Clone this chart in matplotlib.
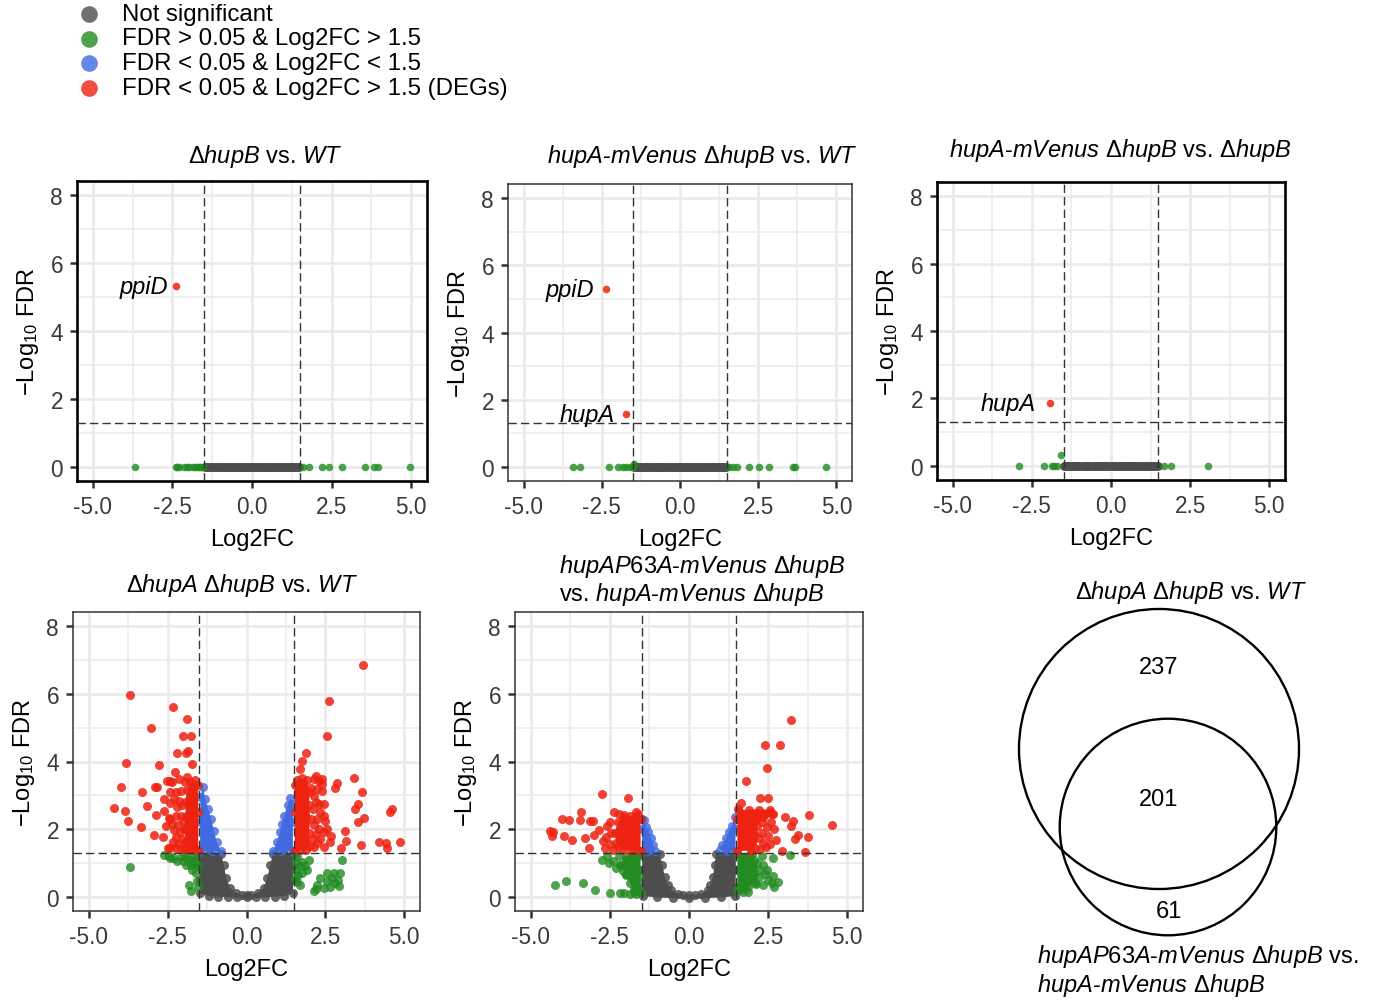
import matplotlib
matplotlib.use("Agg")
import matplotlib.pyplot as plt
from matplotlib.lines import Line2D
from matplotlib.patches import Circle
import numpy as np

plt.rcParams['font.family'] = ['Liberation Sans', 'DejaVu Sans']
plt.rcParams['mathtext.fontset'] = 'custom'
plt.rcParams['mathtext.rm'] = 'Liberation Sans'
plt.rcParams['mathtext.it'] = 'Liberation Sans:italic'
plt.rcParams['mathtext.bf'] = 'Liberation Sans:bold'

# ==============================
# Colours / legend
# ==============================
GREY = '#4D4D4D'
GREEN = '#228B22'
BLUE = '#4169E1'
RED = '#EE2211'

legend_labels = ["Not significant",
                 "FDR > 0.05 & Log2FC > 1.5",
                 "FDR < 0.05 & Log2FC < 1.5",
                 "FDR < 0.05 & Log2FC > 1.5 (DEGs)"]
legend_colors = [GREY, GREEN, BLUE, RED]

xticks = [-5.0, -2.5, 0.0, 2.5, 5.0]
xtick_labels = ['-5.0', '-2.5', '0.0', '2.5', '5.0']
yticks = [0, 2, 4, 6, 8]
fc_cut = 1.5
fdr_cut = 1.301  # -log10(0.05)

# ==============================
# Panel 1: dhupB vs WT
# ==============================
p1_grey_x = [-1.49, -1.45, -1.41, -1.37, -1.33, -1.27, -1.22, -1.18, -1.15, -1.09, -1.04, -1.00,
             -0.96, -0.91, -0.87, -0.82, -0.78, -0.74, -0.70, -0.65, -0.61, -0.56, -0.52, -0.48,
             -0.44, -0.39, -0.35, -0.31, -0.26, -0.22, -0.18, -0.13, -0.09, -0.04, 0.0, 0.04,
             0.08, 0.13, 0.17, 0.21, 0.25, 0.30, 0.34, 0.38, 0.43, 0.47, 0.51, 0.56, 0.60, 0.64,
             0.69, 0.73, 0.77, 0.82, 0.86, 0.90, 0.95, 0.99, 1.03, 1.08, 1.12, 1.16, 1.21, 1.25,
             1.29, 1.34, 1.38, 1.43, 1.47]
p1_green = [(-3.67, 0), (-2.39, 0), (-2.35, 0), (-2.30, 0), (-2.14, 0), (-2.05, 0), (-1.97, 0),
            (-1.86, 0), (-1.80, 0), (-1.74, 0), (-1.68, 0), (-1.63, 0), (-1.58, 0), (-1.53, 0),
            (1.61, 0), (1.79, 0), (2.21, 0), (2.42, 0), (2.84, 0), (3.56, 0), (3.84, 0),
            (3.95, 0), (4.98, 0)]
p1_red = [(-2.40, 5.32)]
p1_labels = [("ppiD", -2.40, 5.32)]

# ==============================
# Panel 2: hupA-mVenus dhupB vs WT
# ==============================
p2_grey_x = [-1.47, -1.43, -1.40, -1.35, -1.31, -1.27, -1.23, -1.18, -1.13, -1.09, -1.05, -1.00,
             -0.95, -0.92, -0.88, -0.82, -0.77, -0.73, -0.69, -0.64, -0.60, -0.57, -0.53, -0.48,
             -0.43, -0.38, -0.34, -0.31, -0.27, -0.22, -0.17, -0.12, -0.08, -0.03, 0.01, 0.05,
             0.09, 0.14, 0.18, 0.22, 0.26, 0.31, 0.35, 0.38, 0.42, 0.47, 0.52, 0.57, 0.61, 0.64,
             0.68, 0.73, 0.78, 0.81, 0.85, 0.90, 0.94, 0.99, 1.04, 1.07, 1.11, 1.15, 1.20, 1.25,
             1.30, 1.35, 1.39, 1.44, 1.48]
p2_green = [(-3.43, 0), (-3.21, 0), (-2.26, 0), (-1.97, 0), (-1.83, 0), (-1.72, 0), (-1.61, 0),
            (-1.51, 0), (-1.47, 0.08), (1.57, 0), (1.70, 0), (1.83, 0), (2.21, 0), (2.53, 0),
            (2.85, 0), (3.60, 0), (3.67, 0), (4.68, 0)]
p2_red = [(-2.38, 5.28), (-1.72, 1.56)]
p2_labels = [("ppiD", -2.38, 5.28), ("hupA", -1.72, 1.56)]

# ==============================
# Panel 3: hupA-mVenus dhupB vs dhupB
# ==============================
p3_grey_x = [-1.48, -1.44, -1.39, -1.36, -1.32, -1.26, -1.21, -1.17, -1.14, -1.08, -1.03, -1.01,
             -0.97, -0.90, -0.86, -0.83, -0.79, -0.73, -0.69, -0.66, -0.62, -0.55, -0.51, -0.49,
             -0.45, -0.38, -0.34, -0.30, -0.25, -0.23, -0.19, -0.12, -0.08, -0.05, 0.0, 0.05,
             0.10, 0.12, 0.16, 0.22, 0.27, 0.29, 0.33, 0.39, 0.44, 0.46, 0.50, 0.56, 0.59, 0.65,
             0.70, 0.72, 0.76, 0.83, 0.87, 0.89, 0.93, 1.00, 1.05, 1.07, 1.13, 1.15, 1.19, 1.26,
             1.31, 1.33, 1.37, 1.43, 1.47]
p3_green = [(-2.90, 0), (-2.13, 0), (-1.87, 0), (-1.79, 0), (-1.72, 0), (-1.58, 0.33),
            (1.66, 0), (1.90, 0), (3.06, 0)]
p3_red = [(-1.93, 1.85)]
p3_labels = [("hupA", -1.93, 1.85)]

# ==============================
# Panel 4: dhupA dhupB vs WT (dense clouds: outline of packed points + loose points)
# ==============================
p4_grey_cloud = [(-1.48, 1.27), (-1.48, 0.9), (-1.48, 0.5), (-1.47, 0.1), (-1.2, 0.02), (-0.9, 0.0),
                 (-0.6, -0.01), (-0.3, -0.02), (0.0, -0.02), (0.3, -0.02), (0.6, -0.01), (0.9, 0.0),
                 (1.2, 0.02), (1.47, 0.1), (1.48, 0.5), (1.48, 0.9), (1.48, 1.27), (1.2, 1.28),
                 (0.84, 1.28), (0.75, 0.94), (0.66, 0.55), (0.54, 0.26), (0.35, 0.11), (0.15, 0.05),
                 (0.0, 0.04), (-0.15, 0.05), (-0.32, 0.11), (-0.52, 0.26), (-0.64, 0.55),
                 (-0.72, 0.94), (-0.81, 1.28), (-1.2, 1.28)]
p4_blue_clouds = [
    [(-1.47, 1.34), (-1.47, 2.2), (-1.46, 2.95), (-1.37, 3.26), (-1.32, 2.9), (-1.22, 2.6),
     (-1.12, 2.3), (-1.03, 1.95), (-0.95, 1.63), (-0.82, 1.35), (-1.1, 1.34)],
    [(1.47, 1.34), (1.47, 2.2), (1.47, 2.75), (1.39, 2.91), (1.30, 2.7), (1.20, 2.4), (1.12, 2.15),
     (1.06, 1.92), (0.97, 1.63), (0.84, 1.35), (1.1, 1.34)]]
p4_red_clouds = [
    [(-1.53, 1.38), (-1.53, 2.5), (-1.53, 3.3), (-1.62, 3.45), (-1.78, 3.38), (-1.88, 3.15),
     (-1.95, 2.8), (-1.92, 2.4), (-1.98, 2.0), (-1.92, 1.65), (-1.96, 1.40), (-1.75, 1.37)],
    [(1.53, 1.38), (1.53, 2.5), (1.53, 3.3), (1.6, 3.45), (1.75, 3.5), (1.92, 3.45), (2.0, 3.1),
     (1.98, 2.7), (2.03, 2.3), (1.97, 1.9), (2.02, 1.5), (1.9, 1.38), (1.7, 1.37)]]
p4_green_clouds = []
p4_red = [(-3.70, 5.97), (-2.33, 5.61), (-1.90, 5.26), (-3.04, 5.00), (-2.02, 4.74), (-1.75, 4.74),
          (-2.21, 4.25), (-1.93, 4.25), (-1.86, 4.30), (-3.82, 3.97), (-2.76, 3.90), (-1.73, 3.94),
          (-2.28, 3.70), (-3.99, 3.24), (-3.31, 3.10), (-2.91, 3.24), (-2.85, 3.24), (-2.53, 3.43),
          (-2.41, 3.43), (-2.14, 3.47), (-1.88, 3.54), (-4.20, 2.62), (-3.86, 2.53), (-3.17, 2.68),
          (-3.76, 2.23), (-3.33, 2.07), (-2.87, 2.43), (-2.62, 2.53), (-2.94, 1.84), (-2.64, 1.77),
          (-2.46, 2.33), (-2.49, 1.45),
          (-2.35, 3.40), (-1.96, 3.40), (-2.43, 3.09), (-2.25, 3.09), (-2.09, 3.13), (-2.30, 2.89),
          (-2.14, 2.84), (-2.41, 2.77), (-2.20, 2.65), (-2.04, 2.70), (-2.44, 2.31), (-2.25, 2.40),
          (-2.09, 2.40), (-2.35, 2.16), (-2.18, 2.11), (-2.01, 2.23), (-2.30, 1.97), (-2.11, 1.92),
          (-1.96, 2.00), (-2.25, 1.77), (-2.06, 1.70), (-2.33, 1.63), (-2.18, 1.55), (-1.93, 1.58),
          (-2.41, 1.45), (-2.25, 1.43), (-2.07, 1.41), (-1.88, 1.43), (-1.72, 1.41), (-2.55, 2.10),
          (-2.60, 2.90),
          (3.70, 6.84), (2.60, 5.79), (2.54, 4.74), (1.89, 4.25), (1.75, 4.02), (1.69, 3.77),
          (3.40, 3.50), (3.66, 3.10), (2.87, 3.36), (2.79, 3.23), (3.53, 2.74), (3.43, 2.60),
          (3.72, 2.33), (3.53, 2.21), (4.61, 2.60), (4.56, 2.52), (3.12, 1.94), (3.17, 1.64),
          (3.63, 1.53), (2.69, 1.80), (2.64, 1.63), (2.98, 1.45), (4.21, 1.63), (4.42, 1.58),
          (4.44, 1.45), (4.88, 1.61), (2.45, 2.73), (2.45, 2.40), (2.40, 3.47), (2.19, 3.57),
          (2.05, 3.23), (2.13, 3.47), (2.29, 3.43), (2.24, 3.18), (2.40, 3.33), (2.40, 3.13),
          (2.13, 2.99), (2.19, 2.79), (2.34, 2.50), (2.24, 2.31), (2.13, 2.11), (2.29, 2.01),
          (2.45, 1.92), (2.19, 1.87), (2.34, 1.72), (2.24, 1.58), (2.45, 1.48), (2.13, 1.48),
          (2.56, 2.01), (2.50, 2.23), (2.10, 2.60), (2.30, 2.75), (2.08, 1.70)]
p4_green = [(-3.70, 0.87), (-2.60, 1.24), (-2.45, 1.22), (-2.41, 1.15), (-2.30, 1.15), (-2.20, 1.07),
            (-2.05, 1.20), (-2.00, 1.05), (-1.93, 0.94), (-1.95, 1.20), (-1.85, 1.12), (-1.80, 1.02),
            (-1.74, 0.80), (-1.70, 1.20), (-1.65, 1.00), (-1.58, 1.20), (-1.55, 0.90), (-1.60, 0.70),
            (-1.83, 0.36), (-1.77, 0.17), (-1.58, 0.46), (-1.55, 0.30), (-1.62, 1.10), (-1.75, 0.95),
            (1.55, 1.25), (1.61, 1.19), (1.56, 1.00), (1.76, 1.04), (1.97, 1.09), (1.63, 0.65),
            (1.58, 0.80), (1.92, 0.80), (1.85, 0.90), (1.70, 0.36), (1.60, 0.45), (1.70, 0.90),
            (1.75, 0.70), (2.13, 0.17), (2.20, 0.22), (2.24, 0.36), (2.34, 0.55), (2.45, 0.26),
            (2.56, 0.46), (2.56, 0.70), (2.66, 0.28), (2.70, 0.55), (2.77, 0.70), (2.80, 0.40),
            (2.90, 0.50), (2.93, 0.31), (2.96, 0.70), (3.03, 1.09), (1.55, 0.55)]

# ==============================
# Panel 5: hupAP63A-mVenus dhupB vs hupA-mVenus dhupB
# ==============================
p5_grey_cloud = [(-1.48, 1.27), (-1.48, 0.8), (-1.47, 0.3), (-1.45, 0.02), (-1.0, -0.02), (-0.5, -0.04),
                 (0.0, -0.05), (0.5, -0.04), (1.0, -0.02), (1.45, 0.02), (1.47, 0.3), (1.48, 0.8),
                 (1.48, 1.27), (1.15, 1.28), (0.86, 1.28), (0.81, 0.95), (0.76, 0.60), (0.67, 0.34),
                 (0.60, 0.20), (0.39, 0.09), (0.2, 0.05), (0.0, 0.04), (-0.2, 0.05), (-0.35, 0.09),
                 (-0.56, 0.20), (-0.66, 0.34), (-0.77, 0.60), (-0.84, 0.95), (-0.93, 1.28), (-1.2, 1.28)]
p5_blue_clouds = [
    [(-1.47, 1.34), (-1.49, 2.0), (-1.48, 2.30), (-1.43, 2.28), (-1.35, 2.05), (-1.29, 1.93),
     (-1.19, 1.74), (-1.14, 1.54), (-1.08, 1.36), (-1.3, 1.34)],
    [(1.47, 1.34), (1.47, 2.0), (1.44, 2.35), (1.36, 2.1), (1.26, 1.93), (1.18, 1.74), (1.05, 1.54),
     (0.99, 1.39), (1.2, 1.34)]]
p5_red_clouds = [
    [(-1.53, 1.36), (-1.53, 2.3), (-1.62, 2.45), (-1.85, 2.38), (-2.05, 2.42), (-2.25, 2.2),
     (-2.35, 1.9), (-2.3, 1.6), (-2.1, 1.38), (-1.8, 1.36)],
    [(1.53, 1.36), (1.53, 2.3), (1.58, 2.55), (1.9, 2.58), (2.2, 2.58), (2.55, 2.58), (2.62, 2.45),
     (2.35, 2.35), (2.15, 2.1), (2.2, 1.75), (2.1, 1.45), (1.95, 1.36)]]
p5_green_clouds = [
    [(-1.53, 0.12), (-1.53, 1.28), (-1.75, 1.28), (-2.0, 1.2), (-2.15, 0.95), (-2.0, 0.65),
     (-1.85, 0.4), (-1.75, 0.15)],
    [(1.53, 0.2), (1.53, 1.28), (2.0, 1.28), (2.15, 1.0), (2.2, 0.6), (2.1, 0.4), (1.85, 0.3),
     (1.7, 0.15)]]
p5_red = [(3.23, 5.22), (2.39, 4.50), (2.88, 4.50), (2.46, 3.80), (1.79, 3.42), (1.65, 2.77),
          (2.25, 2.91), (2.51, 2.91), (3.79, 2.42), (4.53, 2.13), (3.02, 2.35), (3.28, 2.25),
          (3.23, 2.10), (3.44, 1.84), (3.34, 1.72), (3.77, 1.77), (3.68, 1.32), (2.95, 1.34),
          (2.74, 1.69), (2.44, 1.46), (2.57, 2.52), (2.67, 2.44),
          (2.30, 2.20), (2.45, 2.05), (2.30, 1.90), (2.50, 1.80), (2.35, 1.60), (2.55, 1.55),
          (2.25, 1.42), (2.60, 2.20), (2.70, 2.00), (2.40, 2.45), (1.55, 2.60),
          (-2.75, 3.03), (-1.94, 2.93), (-3.42, 2.52), (-2.38, 2.52), (-1.66, 2.52), (-4.02, 2.30),
          (-3.79, 2.27), (-3.45, 2.27), (-3.12, 2.25), (-3.03, 2.25), (-2.85, 1.97), (-2.59, 2.08),
          (-4.38, 1.95), (-4.29, 1.93), (-4.32, 1.79), (-3.95, 1.81), (-3.69, 1.67), (-3.28, 1.74),
          (-2.99, 1.84), (-3.16, 1.44), (-2.72, 1.64), (-2.61, 1.76), (-2.26, 1.46), (-2.06, 2.33),
          (-2.45, 1.90), (-2.50, 1.55), (-2.40, 1.38), (-2.50, 2.20), (-2.20, 2.45), (-2.65, 1.45)]
p5_green = [(-2.75, 1.10), (-2.53, 1.00), (-2.40, 1.05), (-2.19, 0.95), (-1.98, 0.66), (-1.68, 0.36),
            (-1.85, 0.64), (-1.72, 0.95), (-1.62, 1.20), (-2.20, 1.22), (-2.60, 1.20), (-2.00, 1.10),
            (-1.80, 1.15), (-1.60, 0.80), (-1.58, 0.55), (-1.90, 0.85), (-2.30, 0.85), (-2.10, 0.75),
            (-1.75, 0.50), (-4.23, 0.34), (-3.89, 0.46), (-3.35, 0.41), (-2.97, 0.19), (-2.51, 0.10),
            (-2.19, 0.12), (-2.05, 0.10), (-1.85, 0.09), (-1.66, 0.09), (-1.75, 0.25), (-1.60, 0.20),
            (3.18, 1.23), (1.86, 0.14), (2.65, 1.15), (2.34, 0.95), (2.39, 0.66), (2.67, 0.61),
            (2.62, 0.42), (2.13, 0.38), (2.34, 0.34), (1.81, 0.36), (2.00, 0.66), (2.20, 0.80),
            (2.50, 0.50), (1.60, 0.20), (1.70, 0.30), (2.05, 1.10), (1.90, 1.20), (2.30, 1.20),
            (2.45, 0.80), (2.80, 0.45), (2.70, 0.30)]

# ==============================
# Venn: dhupA dhupB vs WT  /  hupAP63A-mVenus dhupB vs hupA-mVenus dhupB
# ==============================
venn_only_a = 237
venn_both = 201
venn_only_b = 61

# ==============================
# Figure
# ==============================
W, H = 1373, 1003
FS = 17
fig = plt.figure(figsize=(W / 100, H / 100), dpi=100)


def px_axes(l, t, r, b):
    return fig.add_axes([l / W, 1 - b / H, (r - l) / W, (b - t) / H])


def xy(pts):
    return [p[0] for p in pts], [p[1] for p in pts]


def volcano(ax, grey_pts, green, blue_clouds, red_clouds, green_clouds, red, s, heavy):
    ax.set_xlim(-5.5, 5.5)
    ax.set_ylim(-0.42, 8.42)
    ax.set_xticks(xticks)
    ax.set_xticklabels(xtick_labels)
    ax.set_yticks(yticks)
    ax.set_xticks([-3.75, -1.25, 1.25, 3.75], minor=True)
    ax.set_yticks([1, 3, 5, 7], minor=True)
    ax.grid(which='major', color='#EBEBEB', lw=2.0)
    ax.grid(which='minor', color='#EBEBEB', lw=1.1)
    ax.set_axisbelow(True)
    ax.tick_params(which='major', length=5, width=1.8, color='#333333',
                   labelsize=16.3, labelcolor='#3A3A3A', pad=5)
    ax.tick_params(which='minor', length=0)
    for sp in ax.spines.values():
        sp.set_linewidth(1.9 if heavy else 1.1)
        sp.set_color('black' if heavy else '#333333')

    # grey (not significant)
    for cloud in grey_pts[1]:
        cx, cy = xy(cloud)
        ax.fill(cx, cy, color=GREY, lw=0, zorder=2)
        ax.scatter(cx, cy, s=s, color=GREY, alpha=0.85, lw=0, zorder=2)
    if grey_pts[0]:
        gx, gy = xy(grey_pts[0])
        ax.scatter(gx, gy, s=s * 1.3, color=GREY, lw=0, zorder=2)
    # green
    for cloud in green_clouds:
        cx, cy = xy(cloud)
        ax.fill(cx, cy, color=GREEN, lw=0, zorder=3)
        ax.scatter(cx, cy, s=s, color=GREEN, alpha=0.8, lw=0, zorder=3)
    gx, gy = xy(green)
    ax.scatter(gx, gy, s=s, color=GREEN, alpha=0.8, lw=0, zorder=3)
    # blue
    for cloud in blue_clouds:
        cx, cy = xy(cloud)
        ax.fill(cx, cy, color=BLUE, lw=0, zorder=4)
        ax.scatter(cx, cy, s=s, color=BLUE, alpha=0.8, lw=0, zorder=4)
    # red
    for cloud in red_clouds:
        cx, cy = xy(cloud)
        ax.fill(cx, cy, color=RED, lw=0, zorder=5)
        ax.scatter(cx, cy, s=s, color=RED, alpha=0.85, lw=0, zorder=5)
    rx, ry = xy(red)
    ax.scatter(rx, ry, s=s, color=RED, alpha=0.85, lw=0, zorder=5)

    # thresholds
    for v in (-fc_cut, fc_cut):
        ax.axvline(v, color='#333333', lw=1.0, ls=(0, (6, 3)), zorder=6)
    ax.axhline(fdr_cut, color='#333333', lw=1.0, ls=(0, (6, 3)), zorder=6)

    ax.set_xlabel('Log2FC', fontsize=FS, labelpad=7)
    ax.set_ylabel(r'$-$Log$_{10}$ FDR', fontsize=FS, labelpad=7)


def label_genes(ax, labels, offset):
    for name, x, y in labels:
        ax.annotate(name, (x, y), xytext=(-offset, 0), textcoords='offset pixels',
                    ha='right', va='center', fontsize=FS, style='italic', zorder=7)


# Panel 1
ax1 = px_axes(77, 182, 427, 482)
volcano(ax1, ([(x, 0.0) for x in p1_grey_x], []), p1_green, [], [], [], p1_red, 30, True)
label_genes(ax1, p1_labels, 8)

# Panel 2
ax2 = px_axes(508, 185, 852, 482)
volcano(ax2, ([(x, 0.0) for x in p2_grey_x], []), p2_green, [], [], [], p2_red, 30, False)
label_genes(ax2, p2_labels, 11)

# Panel 3
ax3 = px_axes(937, 183, 1285, 481)
volcano(ax3, ([(x, 0.0) for x in p3_grey_x], []), p3_green, [], [], [], p3_red, 30, True)
label_genes(ax3, p3_labels, 14)

# Panel 4
ax4 = px_axes(73, 613, 420, 912)
volcano(ax4, ([], [p4_grey_cloud]), p4_green, p4_blue_clouds, p4_red_clouds, p4_green_clouds,
        p4_red, 42, False)

# Panel 5
ax5 = px_axes(515, 613, 863, 912)
volcano(ax5, ([], [p5_grey_cloud]), p5_green, p5_blue_clouds, p5_red_clouds, p5_green_clouds,
        p5_red, 42, False)

# ==============================
# Titles
# ==============================
def ftext(px, py, s, ha='center', **kw):
    fig.text(px / W, 1 - py / H, s, ha=ha, va='center', fontsize=FS, **kw)


ftext(265, 157, r'Δ$\mathit{hupB}$ vs. $\mathit{WT}$')
ftext(702, 157, r'$\mathit{hupA}$-$\mathit{mVenus}$ Δ$\mathit{hupB}$ vs. $\mathit{WT}$')
ftext(1120, 151, r'$\mathit{hupA}$-$\mathit{mVenus}$ Δ$\mathit{hupB}$ vs. Δ$\mathit{hupB}$')
ftext(242, 586, r'Δ$\mathit{hupA}$ Δ$\mathit{hupB}$ vs. $\mathit{WT}$')
ftext(559, 567, r'$\mathit{hupAP63A}$-$\mathit{mVenus}$ Δ$\mathit{hupB}$', ha='left')
ftext(559, 595, r'vs. $\mathit{hupA}$-$\mathit{mVenus}$ Δ$\mathit{hupB}$', ha='left')

# ==============================
# Legend
# ==============================
for i, (lab, col) in enumerate(zip(legend_labels, legend_colors)):
    yy = 1 - (15 + i * 24.5) / H
    fig.add_artist(Line2D([89 / W], [yy], marker='o', ms=12, color=col, alpha=0.8,
                          mew=0, ls='', transform=fig.transFigure))
    fig.text(122 / W, yy, lab, ha='left', va='center', fontsize=17.3)

# ==============================
# Venn diagram (areas scaled to set sizes)
# ==============================
axv = px_axes(990, 600, 1340, 945)
axv.set_xlim(990, 1340)
axv.set_ylim(945, 600)
axv.axis('off')
k = 6.69
r_a = k * np.sqrt(venn_only_a + venn_both)
r_b = k * np.sqrt(venn_only_b + venn_both)
axv.add_patch(Circle((1159, 750), r_a, fill=False, lw=1.7, color='black'))
axv.add_patch(Circle((1168, 828), r_b, fill=False, lw=1.7, color='black'))
axv.text(1159, 668, str(venn_only_a), ha='center', va='center', fontsize=FS)
axv.text(1159, 800, str(venn_both), ha='center', va='center', fontsize=FS)
axv.text(1169, 912, str(venn_only_b), ha='center', va='center', fontsize=FS)

ftext(1191, 593, r'Δ$\mathit{hupA}$ Δ$\mathit{hupB}$ vs. $\mathit{WT}$')
ftext(1037, 957, r'$\mathit{hupAP63A}$-$\mathit{mVenus}$ Δ$\mathit{hupB}$ vs.', ha='left')
ftext(1037, 986, r'$\mathit{hupA}$-$\mathit{mVenus}$ Δ$\mathit{hupB}$', ha='left')

fig.savefig('out.png', dpi=100)
